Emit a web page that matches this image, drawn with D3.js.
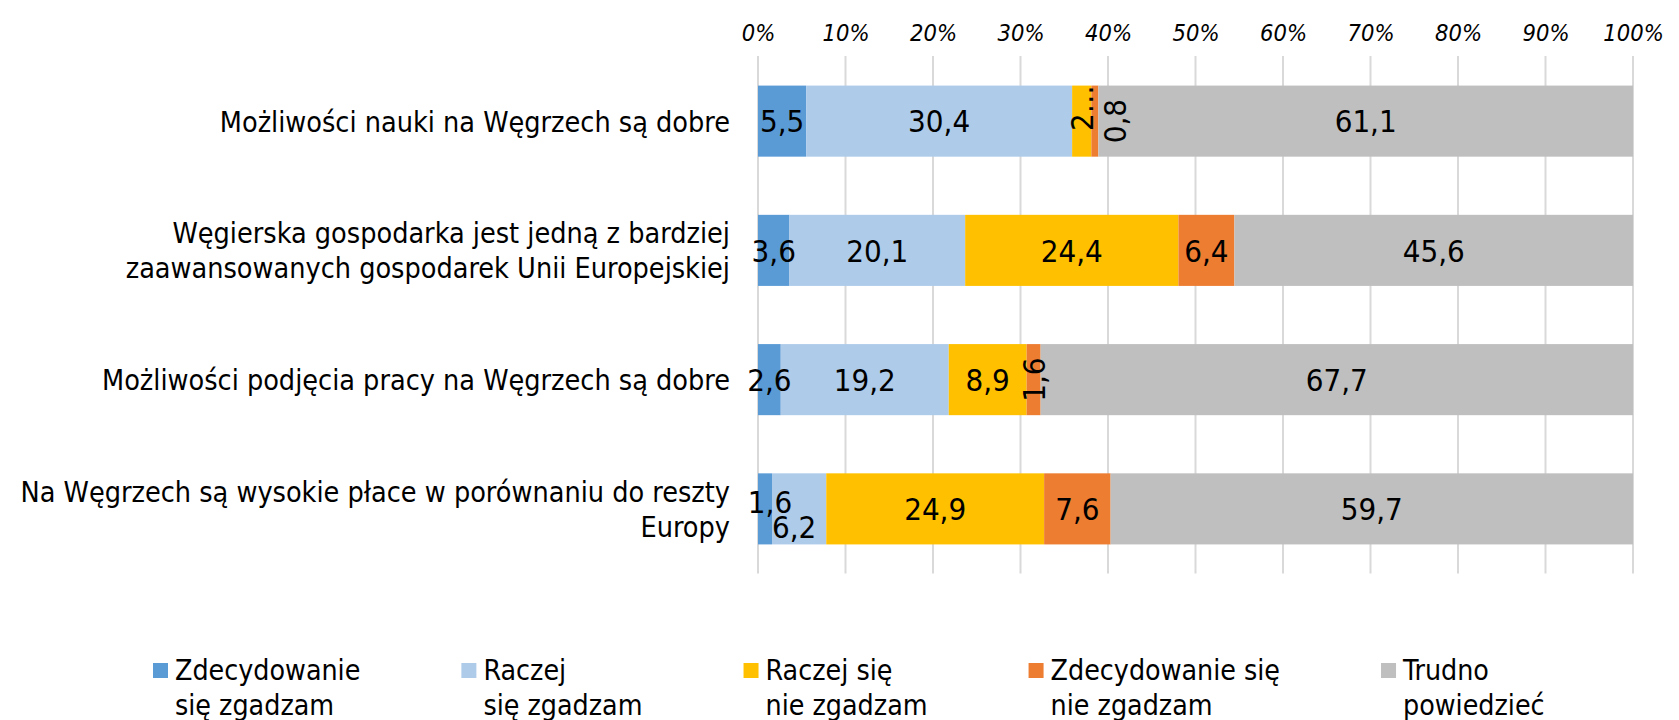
<!DOCTYPE html>
<html>
<head>
<meta charset="utf-8">
<script src="https://cdn.jsdelivr.net/npm/d3@7"></script>
<style>
body { margin: 0; background: #fff; }
svg { display: block; font-family: "DejaVu Sans Condensed", "DejaVu Sans", sans-serif; }
</style>
</head>
<body>
<svg width="1679" height="720"></svg>
<script>
// statements, each split into the lines shown on the chart
var categories = [
    ["Możliwości nauki na Węgrzech są dobre"],
    ["Węgierska gospodarka jest jedną z bardziej", "zaawansowanych gospodarek Unii Europejskiej"],
    ["Możliwości podjęcia pracy na Węgrzech są dobre"],
    ["Na Węgrzech są wysokie płace w porównaniu do reszty", "Europy"]
];
var seriesNames = [
    ["Zdecydowanie", "się zgadzam"],
    ["Raczej", "się zgadzam"],
    ["Raczej się", "nie zgadzam"],
    ["Zdecydowanie się", "nie zgadzam"],
    ["Trudno", "powiedzieć"]
];
var zdecydowanieZgadzam = [5.5, 3.6, 2.6, 1.6];
var raczejZgadzam = [30.4, 20.1, 19.2, 6.2];
var raczejNieZgadzam = [2.2, 24.4, 8.9, 24.9];
var zdecydowanieNieZgadzam = [0.8, 6.4, 1.6, 7.6];
var trudnoPowiedziec = [61.1, 45.6, 67.7, 59.7];
var tickValues = [0, 10, 20, 30, 40, 50, 60, 70, 80, 90, 100];

var colors = ["#5b9bd5", "#aecbea", "#ffc000", "#ed7d31", "#bfbfbf"];

// label tweaks (Excel had moved / rotated a few crowded ones)
var labelTweaks = {
    "0-2": {text: "2\u2026", rotate: true, dy: -13},
    "0-3": {rotate: true, dx: 20},
    "2-3": {rotate: true},
    "3-0": {dx: 5, dy: -7},
    "3-1": {dx: -5, dy: 18}
};

var svg = d3.select("svg");
var series = [zdecydowanieZgadzam, raczejZgadzam, raczejNieZgadzam, zdecydowanieNieZgadzam, trudnoPowiedziec];
var keys = d3.range(series.length);

var rows = categories.map(function(c, i) {
    var r = {idx: i};
    keys.forEach(function(k) { r[k] = series[k][i]; });
    return r;
});

var stacked = d3.stack().keys(keys).offset(d3.stackOffsetExpand)(rows);

var x = d3.scaleLinear().domain([0, 100]).range([758, 1633]);
var y = d3.scaleBand()
    .domain(d3.range(categories.length))
    .range([56.5, 573.5])
    .paddingInner(0.45)
    .paddingOuter(0.225);

// grid
svg.append("g")
    .selectAll("line")
    .data(tickValues)
    .enter().append("line")
        .attr("x1", function(d) { return x(d); })
        .attr("x2", function(d) { return x(d); })
        .attr("y1", 56)
        .attr("y2", 573.5)
        .attr("stroke", "#d9d9d9")
        .attr("stroke-width", 2);

// top axis
var axis = svg.append("g")
    .attr("transform", "translate(0,41)")
    .call(d3.axisTop(x).tickValues(tickValues).tickSize(0).tickPadding(0)
        .tickFormat(function(d) { return d + "%"; }));
axis.select(".domain").remove();
axis.selectAll("text")
    .attr("font-size", 23.5)
    .attr("font-style", "italic")
    .attr("font-family", "\"DejaVu Sans Condensed\", \"DejaVu Sans\", sans-serif")
    .attr("fill", "#000");

// bars
var layers = svg.append("g")
    .selectAll("g")
    .data(stacked)
    .enter().append("g")
        .attr("fill", function(d) { return colors[d.key]; });

layers.selectAll("rect")
    .data(function(d) { return d; })
    .enter().append("rect")
        .attr("x", function(d) { return x(d[0] * 100); })
        .attr("width", function(d) { return x(d[1] * 100) - x(d[0] * 100); })
        .attr("y", function(d) { return y(d.data.idx); })
        .attr("height", y.bandwidth());

// data labels
var fmt = function(v) { return d3.format(".1f")(v).replace(".", ","); };
var labelSize = 31;
stacked.forEach(function(layer) {
    layer.forEach(function(d) {
        var t = labelTweaks[d.data.idx + "-" + layer.key] || {};
        var cx = x((d[0] + d[1]) / 2 * 100) + (t.dx || 0);
        var cy = y(d.data.idx) + y.bandwidth() / 2 + (t.dy || 0);
        var txt = svg.append("text")
            .attr("font-size", labelSize)
            .attr("fill", "#000")
            .attr("text-anchor", "middle")
            .text(t.text || fmt(d.data[layer.key]));
        if (t.rotate) {
            txt.attr("transform", "translate(" + (cx + labelSize * 0.365) + "," + cy + ") rotate(-90)");
        } else {
            txt.attr("x", cx).attr("y", cy + labelSize * 0.365);
        }
    });
});

// category labels
var catSize = 28.5;
categories.forEach(function(lines, i) {
    var cy = y(i) + y.bandwidth() / 2;
    var t = svg.append("text")
        .attr("font-size", catSize)
        .attr("fill", "#000")
        .attr("text-anchor", "end");
    lines.forEach(function(line, j) {
        t.append("tspan")
            .attr("x", 730)
            .attr("y", cy + catSize * 0.365 + (j - (lines.length - 1) / 2) * 35)
            .text(line);
    });
});

// legend
var legendX = 153;
seriesNames.forEach(function(lines, k) {
    var g = svg.append("g").attr("transform", "translate(" + legendX + ",0)");
    g.append("rect")
        .attr("x", 0).attr("y", 663)
        .attr("width", 15).attr("height", 15)
        .attr("fill", colors[k]);
    var t = g.append("text")
        .attr("font-size", 28.3)
        .attr("fill", "#000");
    lines.forEach(function(line, j) {
        t.append("tspan")
            .attr("x", 22)
            .attr("y", 680 + j * 35)
            .text(line);
    });
    var w = d3.max(t.selectAll("tspan").nodes(), function(n) { return n.getComputedTextLength(); });
    legendX += 22 + w + 101;
});
</script>
</body>
</html>
